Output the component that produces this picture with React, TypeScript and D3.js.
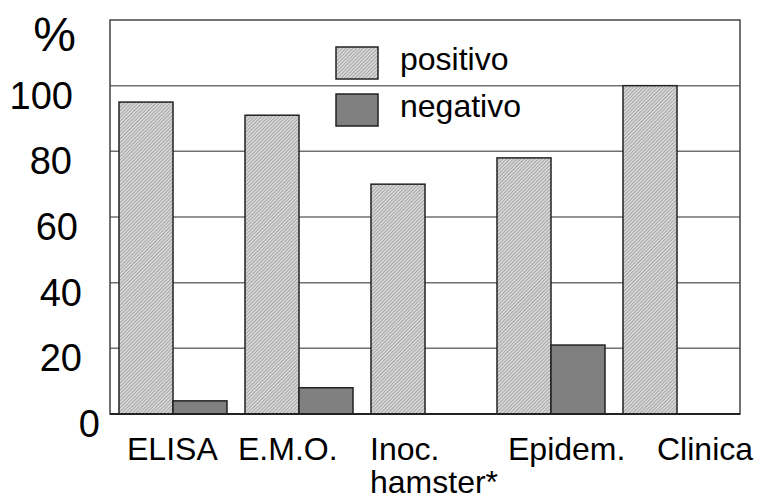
import React from "react";
import * as d3 from "d3";

const categories = ["ELISA", "E.M.O.", "Inoc.\nhamster*", "Epidem.", "Clinica"];
const positivo = [95, 91, 70, 78, 100];
const negativo = [4, 8, 0, 21, 0];
const seriesNames = ["positivo", "negativo"];
const yTicks = [0, 20, 40, 60, 80, 100];
const yTickLabels = ["0", "20", "40", "60", "80", "100"];
// label placement tweaks (style only)
const yLabelRight = [100, 82, 82, 78, 72, 73];
const xLabelDx = [17, 2, 8, 20, 43];

const W = 759, H = 500;
const M = { left: 110, right: 19, top: 20, bottom: 86 };

export default function App() {
  const x = d3.scaleBand<string>().domain(categories).range([M.left, W - M.right]).padding(0);
  const xs = d3.scaleBand<string>().domain(seriesNames).range([0, x.bandwidth()]).paddingInner(0).paddingOuter(0.1667);
  const y = d3.scaleLinear().domain([0, 120]).range([H - M.bottom, M.top]);
  const fills: Record<string, string> = { positivo: "url(#hatch)", negativo: "#808080" };
  const font = "'Liberation Sans', Arial, Helvetica, sans-serif";

  return (
    <svg width={W} height={H} style={{ position: "absolute", left: 0, top: 0, background: "#fff" }} fontFamily={font}>
      <defs>
        <pattern id="hatch" width="2.5" height="2.5" patternUnits="userSpaceOnUse" patternTransform="rotate(45)">
          <rect width="2.5" height="2.5" fill="#d6d6d6" />
          <line x1="0" y1="0" x2="0" y2="2.5" stroke="#888" strokeWidth="1.1" />
        </pattern>
      </defs>
      {/* gridlines */}
      {yTicks.filter(t => t > 0).map(t => (
        <line key={t} x1={M.left} x2={W - M.right} y1={y(t)} y2={y(t)} stroke="#707070" strokeWidth={1.5} />
      ))}
      {/* bars */}
      {categories.map((c, i) => (
        <g key={c} transform={`translate(${x(c)},0)`}>
          {[positivo[i], negativo[i]].map((v, j) =>
            v > 0 ? (
              <rect key={j} x={xs(seriesNames[j])} width={xs.bandwidth()} y={y(v)} height={y(0) - y(v)}
                fill={fills[seriesNames[j]]} stroke="#222" strokeWidth={1.5} />
            ) : null
          )}
        </g>
      ))}
      {/* frame */}
      <rect x={M.left} y={M.top} width={W - M.left - M.right} height={y(0) - M.top} fill="none" stroke="#444" strokeWidth={1.5} />
      <line x1={M.left} x2={W - M.right} y1={y(0)} y2={y(0)} stroke="#222" strokeWidth={2} />
      {/* y labels */}
      {yTicks.map((t, i) => (
        <text key={t} x={yLabelRight[i]} y={y(t) + 23} textAnchor="end" fontSize={38} fill="#000">{yTickLabels[i]}</text>
      ))}
      <text x={54.5} y={51} textAnchor="middle" fontSize={48} fill="#000">%</text>
      {/* x labels */}
      {categories.map((c, i) =>
        c.split("\n").map((line, k) => (
          <text key={c + k} x={(x(c) as number) + xLabelDx[i]} y={460 + k * 33} fontSize={32} fill="#000">{line}</text>
        ))
      )}
      {/* legend */}
      {seriesNames.map((s, i) => (
        <g key={s} transform={`translate(336,${47 + i * 47})`}>
          <rect width={42} height={32} fill={fills[s]} stroke="#222" strokeWidth={1.5} />
          <text x={64} y={23} fontSize={32} fill="#000">{s}</text>
        </g>
      ))}
    </svg>
  );
}
